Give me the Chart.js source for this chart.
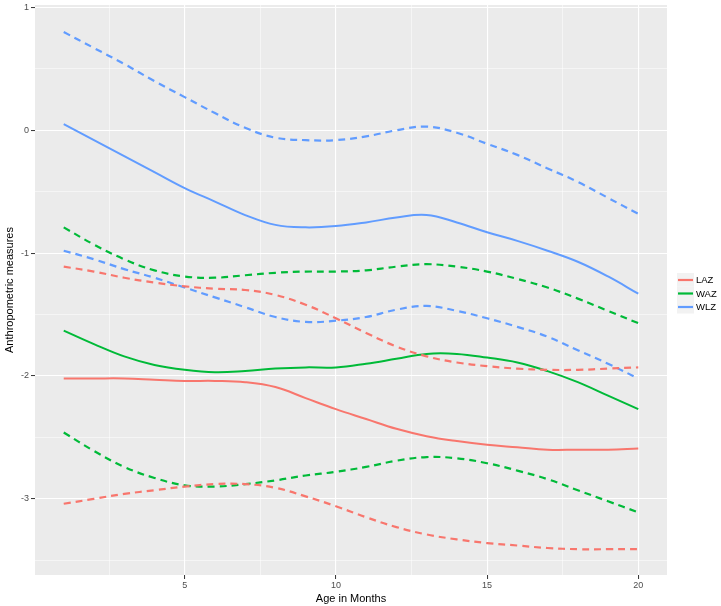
<!DOCTYPE html>
<html lang="en">
<head>
    <meta charset="UTF-8">
    <title>Anthropometric measures by age</title>
    <script src="https://cdn.jsdelivr.net/npm/chart.js"></script>
    <style>
        body {
            margin: 0;
            background: #ffffff;
            overflow: hidden;
        }
        #wrap {
            position: relative;
            width: 721px;
            height: 606px;
        }
    </style>
</head>
<body>
    <div id="wrap"><canvas id="myChart" width="721" height="606"></canvas></div>

    <script>
        // Data (month 1..20)
        const months = [1, 2, 3, 4, 5, 6, 7, 8, 9, 10, 11, 12, 13, 14, 15, 16, 17, 18, 19, 20];

        const lazMean  = [-2.02, -2.02, -2.02, -2.03, -2.04, -2.04, -2.05, -2.09, -2.18, -2.27, -2.35, -2.43, -2.49, -2.53, -2.56, -2.58, -2.60, -2.60, -2.60, -2.59];
        const lazUpper = [-1.11, -1.15, -1.20, -1.24, -1.27, -1.29, -1.30, -1.34, -1.42, -1.53, -1.65, -1.76, -1.84, -1.89, -1.92, -1.94, -1.95, -1.95, -1.94, -1.93];
        const lazLower = [-3.04, -3.00, -2.96, -2.93, -2.90, -2.88, -2.88, -2.91, -2.98, -3.06, -3.15, -3.23, -3.29, -3.33, -3.36, -3.38, -3.40, -3.41, -3.41, -3.41];

        const wazMean  = [-1.63, -1.74, -1.84, -1.91, -1.95, -1.97, -1.96, -1.94, -1.93, -1.93, -1.90, -1.86, -1.82, -1.82, -1.85, -1.89, -1.96, -2.05, -2.16, -2.27];
        const wazUpper = [-0.79, -0.93, -1.05, -1.14, -1.19, -1.20, -1.18, -1.16, -1.15, -1.15, -1.14, -1.11, -1.09, -1.11, -1.15, -1.21, -1.28, -1.37, -1.47, -1.57];
        const wazLower = [-2.46, -2.61, -2.74, -2.83, -2.89, -2.90, -2.88, -2.85, -2.81, -2.78, -2.74, -2.69, -2.66, -2.67, -2.71, -2.77, -2.84, -2.93, -3.02, -3.11];

        const wlzMean  = [0.05, -0.08, -0.21, -0.34, -0.47, -0.58, -0.69, -0.77, -0.79, -0.78, -0.75, -0.71, -0.69, -0.75, -0.83, -0.90, -0.98, -1.07, -1.19, -1.33];
        const wlzUpper = [0.80, 0.67, 0.54, 0.40, 0.27, 0.14, 0.02, -0.06, -0.08, -0.08, -0.05, 0.00, 0.03, -0.02, -0.11, -0.20, -0.31, -0.42, -0.55, -0.68];
        const wlzLower = [-0.98, -1.05, -1.13, -1.20, -1.28, -1.36, -1.44, -1.52, -1.56, -1.55, -1.52, -1.46, -1.43, -1.47, -1.53, -1.60, -1.68, -1.79, -1.90, -2.02];

        const seriesNames  = ["LAZ", "WAZ", "WLZ"];
        const seriesColors = ["#F8766D", "#00BA38", "#619CFF"];
        const xTicks = [5, 10, 15, 20];
        const yTicks = [1, 0, -1, -2, -3];

        const groups = [
            [lazMean, lazUpper, lazLower],
            [wazMean, wazUpper, wazLower],
            [wlzMean, wlzUpper, wlzLower]
        ];

        const toPoints = arr => months.map((m, i) => ({ x: m, y: arr[i] }));

        const datasets = [];
        groups.forEach((g, gi) => {
            g.forEach((arr, k) => {
                datasets.push({
                    label: k === 0 ? seriesNames[gi] : seriesNames[gi] + (k === 1 ? " upper" : " lower"),
                    data: toPoints(arr),
                    borderColor: seriesColors[gi],
                    borderWidth: k === 0 ? 2 : 2.2,
                    borderDash: k === 0 ? [] : [7, 5],
                    pointRadius: 0,
                    tension: 0.4,
                    fill: false
                });
            });
        });

        // ggplot-like grey panel
        const panelBg = {
            id: "panelBg",
            beforeDraw(chart) {
                const { ctx, chartArea: a } = chart;
                ctx.save();
                ctx.fillStyle = "#EBEBEB";
                ctx.fillRect(a.left, a.top, a.right - a.left, a.bottom - a.top);
                ctx.restore();
            }
        };

        // legend on the right, only for the mean lines
        const sideLegend = {
            id: "sideLegend",
            afterDraw(chart) {
                const ctx = chart.ctx;
                const x0 = 677, y0 = 273, key = 17;
                ctx.save();
                seriesNames.forEach((name, i) => {
                    const y = y0 + i * 13.5;
                    ctx.fillStyle = "#F2F2F2";
                    ctx.fillRect(x0, y, key, 13.5);
                    ctx.strokeStyle = seriesColors[i];
                    ctx.lineWidth = 2.2;
                    ctx.beginPath();
                    ctx.moveTo(x0 + 1, y + 7);
                    ctx.lineTo(x0 + key - 1, y + 7);
                    ctx.stroke();
                    ctx.fillStyle = "#000";
                    ctx.font = "9.5px 'Liberation Sans', Arial, sans-serif";
                    ctx.textBaseline = "middle";
                    ctx.fillText(name, x0 + key + 2, y + 7.5);
                });
                ctx.restore();
            }
        };

        const isMajor = (v, list) => list.some(t => Math.abs(t - v) < 1e-6);

        new Chart(document.getElementById("myChart"), {
            type: "line",
            data: { datasets },
            plugins: [panelBg, sideLegend],
            options: {
                responsive: false,
                animation: false,
                layout: { padding: { left: 0, top: 5, right: 54, bottom: 0 } },
                plugins: {
                    legend: { display: false },
                    tooltip: { enabled: false }
                },
                scales: {
                    x: {
                        type: "linear",
                        min: 0.05,
                        max: 20.95,
                        afterBuildTicks(scale) {
                            scale.ticks = [2.5, 5, 7.5, 10, 12.5, 15, 17.5, 20].map(v => ({ value: v }));
                        },
                        afterFit(scale) {
                            scale.height = 31;
                            scale.paddingLeft = 0;
                            scale.paddingRight = 0;
                        },
                        border: { display: false },
                        grid: {
                            color: ctx => "#FFFFFF",
                            lineWidth: ctx => isMajor(ctx.tick.value, xTicks) ? 1.1 : 0.5,
                            tickColor: ctx => isMajor(ctx.tick.value, xTicks) ? "#333333" : "rgba(0,0,0,0)",
                            tickLength: 4,
                            tickWidth: 1
                        },
                        ticks: {
                            autoSkip: false,
                            maxRotation: 0,
                            padding: 1,
                            color: "#4D4D4D",
                            font: { family: "'Liberation Sans', Arial, sans-serif", size: 9 },
                            callback: v => isMajor(v, xTicks) ? String(v) : ""
                        },
                        title: {
                            display: true,
                            text: "Age in Months",
                            color: "#000",
                            padding: { top: 0, bottom: 0 },
                            font: { family: "'Liberation Sans', Arial, sans-serif", size: 11 }
                        }
                    },
                    y: {
                        type: "linear",
                        min: -3.62,
                        max: 1.02,
                        afterBuildTicks(scale) {
                            scale.ticks = [1, 0.5, 0, -0.5, -1, -1.5, -2, -2.5, -3, -3.5].map(v => ({ value: v }));
                        },
                        afterFit(scale) {
                            scale.width = 35;
                            scale.paddingTop = 0;
                            scale.paddingBottom = 0;
                        },
                        border: { display: false },
                        grid: {
                            color: ctx => "#FFFFFF",
                            lineWidth: ctx => isMajor(ctx.tick.value, yTicks) ? 1.1 : 0.5,
                            tickColor: ctx => isMajor(ctx.tick.value, yTicks) ? "#333333" : "rgba(0,0,0,0)",
                            tickLength: 4,
                            tickWidth: 1
                        },
                        ticks: {
                            autoSkip: false,
                            padding: 2,
                            color: "#4D4D4D",
                            font: { family: "'Liberation Sans', Arial, sans-serif", size: 9 },
                            callback: v => isMajor(v, yTicks) ? String(v) : ""
                        },
                        title: {
                            display: true,
                            text: "Anthropometric measures",
                            color: "#000",
                            padding: { top: 3, bottom: 0 },
                            font: { family: "'Liberation Sans', Arial, sans-serif", size: 11 }
                        }
                    }
                }
            }
        });
    </script>
</body>
</html>
